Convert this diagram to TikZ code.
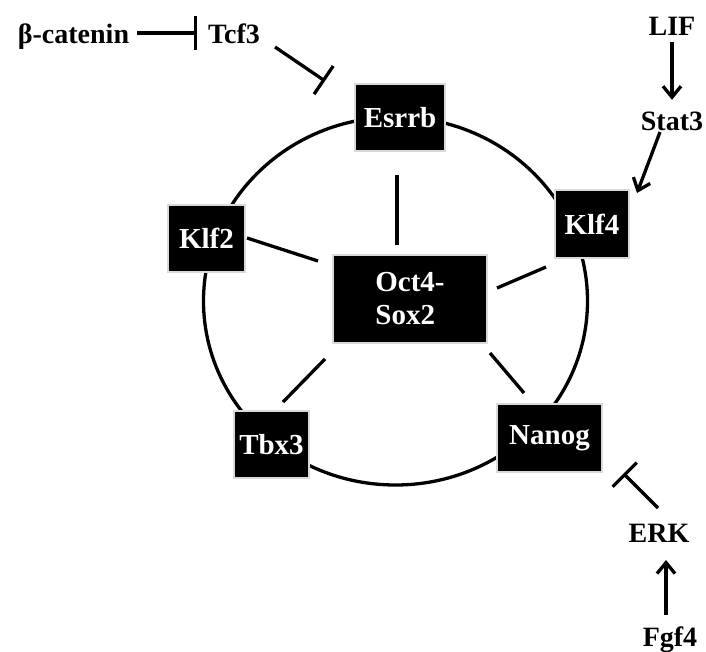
\documentclass[tikz,border=0pt]{standalone}
\usepackage{fontspec}
\setmainfont{Liberation Serif}
\usetikzlibrary{arrows.meta}
\begin{document}
\begin{tikzpicture}[x=1pt,y=-1pt,
  box/.style={fill=black,draw=black!15,line width=1.5pt,text=white,
    font=\fontsize{29}{33}\selectfont\bfseries,inner sep=0pt,align=left},
  lbl/.style={font=\fontsize{28}{30}\selectfont\bfseries,inner sep=0pt,
    text height=20pt,text depth=0pt},
  ring/.style={line width=3.3pt},
  spoke/.style={line width=3.3pt},
  act/.style={line width=3.3pt,-{Straight Barb[length=11pt,width=18pt]}},
  inh/.style={line width=3.3pt,-{Bar[width=34pt]}}]
\useasboundingbox (0,0) rectangle (706,651);
\coordinate (c) at (395.5,301);
\draw[ring] (c) ellipse [x radius=192, y radius=184];
% boxes
\node[box,minimum width=90pt,minimum height=67pt] (esrrb) at (400,117.5) {Esrrb};
\node[box,minimum width=77pt,minimum height=67pt] (klf2) at (206.5,238.5) {Klf2};
\node[box,minimum width=74pt,minimum height=68pt] (klf4) at (592,224) {Klf4};
\node[box,minimum width=154pt,minimum height=88pt] (oct) at (410,299) {Oct4-\\Sox2};
\node[box,minimum width=75pt,minimum height=67pt] (tbx3) at (271.5,444.5) {Tbx3};
\node[box,minimum width=105pt,minimum height=68pt] (nanog) at (549.5,438) {Nanog};
% spokes
\draw[spoke] ([shift={(-13,-54)}]oct.center) -- ([shift={(-3,57.5)}]esrrb.center);
\draw[spoke] ([shift={(-92,-38)}]oct.center) -- ([shift={(40.5,-0.5)}]klf2.center);
\draw[spoke] ([shift={(87,-11)}]oct.center) -- ([shift={(-46,43)}]klf4.center);
\draw[spoke] ([shift={(-85,60)}]oct.center) -- ([shift={(11.5,-42.5)}]tbx3.center);
\draw[spoke] ([shift={(80,54)}]oct.center) -- ([shift={(-25.5,-45)}]nanog.center);
% outer labels
\node[lbl] (bcat) at (73.5,33) {β-catenin};
\node[lbl] (tcf3) at (234,33) {Tcf3};
\node[lbl] (lif) at (672,25) {LIF};
\node[lbl] (stat3) at (672,120) {Stat3};
\node[lbl] (erk) at (659,532) {ERK};
\node[lbl] (fgf4) at (670,636) {Fgf4};
% regulation
\draw[inh] ([xshift=8pt]bcat.east) -- ([xshift=-11pt]tcf3.west);
\draw[inh] ([shift={(41,14)}]tcf3.center) -- ([shift={(-75,-36.5)}]esrrb.center);
\draw[act] ([yshift=-7pt]lif.south) -- ([yshift=10pt]stat3.north);
\draw[act] ([shift={(-12,12)}]stat3.center) -- ([shift={(45,-31)}]klf4.center);
\draw[inh] ([shift={(-1,-24)}]erk.center) -- ([shift={(74,35.5)}]nanog.center);
\draw[act] ([shift={(-4,-21)}]fgf4.center) -- ([shift={(7,28)}]erk.center);
\end{tikzpicture}
\end{document}
